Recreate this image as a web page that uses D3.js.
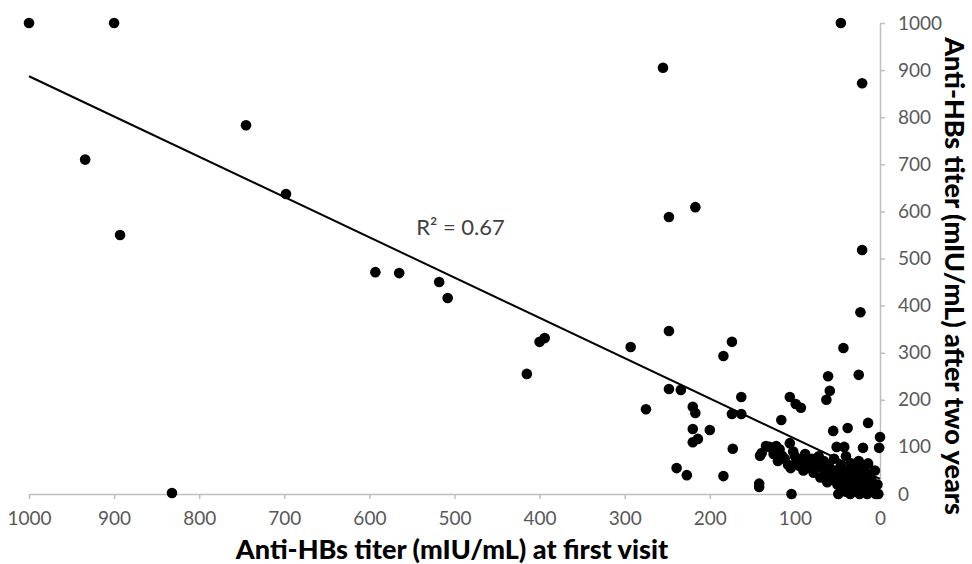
<!DOCTYPE html>
<html>
<head>
<meta charset="utf-8">
<script src="https://cdn.jsdelivr.net/npm/d3@7"></script>
<style>
  body { margin: 0; background: #fff; }
  text { font-family: Lato, 'Open Sans', sans-serif; }
</style>
</head>
<body>
<div id="chart"></div>
<script>
// titers (mIU/mL)
const firstVisit = [1000, 900, 934, 893, 832, 745, 698, 593, 565, 518, 508, 415, 400, 394, 293, 275,
  255, 248, 217, 248, 248, 234, 220, 217, 220, 220, 214, 239, 227, 200, 184, 174, 184, 173, 163,
  174, 163, 141, 134, 122, 106, 116, 115, 108, 106, 99, 93, 61, 63, 59, 55, 38, 51, 42, 23, 25,
  43, 14, 0, 1, 20, 46, 21, 21, 104, 142, 142,
  139, 130, 125, 120, 118, 112, 105, 102, 100, 98, 95, 92, 90, 88, 85, 82, 80, 78, 75, 72, 70,
  68, 66, 64, 62, 60, 58, 56, 54, 52, 50, 49, 48, 46, 45, 44, 42, 40, 40, 38, 36, 35, 34, 32,
  30, 30, 28, 27, 26, 25, 24, 22, 21, 20, 19, 18, 16, 15, 14, 12, 10, 8, 6, 5, 3, 2];
const afterTwoYears = [1000, 1000, 710, 550, 2, 783, 637, 471, 469, 450, 416, 255, 323, 331, 312, 180,
  905, 588, 609, 346, 223, 221, 185, 172, 138, 110, 117, 55, 40, 136, 293, 323, 38, 96, 206,
  170, 170, 81, 102, 102, 108, 157, 81, 62, 206, 191, 183, 250, 200, 219, 134, 140, 100, 100, 386, 253,
  310, 151, 121, 98, 98, 1000, 872, 518, 0, 22, 15,
  87, 100, 85, 70, 95, 75, 55, 90, 80, 70, 60, 75, 50, 85, 65, 55, 75, 45, 60, 80, 35,
  55, 70, 40, 25, 60, 45, 30, 75, 50, 20, 0, 40, 60, 10, 30, 50, 80, 5, 25, 45, 0, 65, 15,
  35, 55, 5, 25, 45, 70, 0, 15, 35, 55, 5, 25, 45, 0, 65, 15, 30, 5, 50, 0, 20, 0];
const xTicks = [0, 100, 200, 300, 400, 500, 600, 700, 800, 900, 1000];
const yTicks = [0, 100, 200, 300, 400, 500, 600, 700, 800, 900, 1000];
// linear trendline
const trendIntercept = 32, trendSlope = 0.855, rSquared = "0.67";

const w = 972, h = 564,
  m = {top: 23, right: 92, bottom: 70, left: 29};

const svg = d3.select("#chart")
  .append("svg")
  .attr("width", w)
  .attr("height", h)
  .attr("viewBox", [0, 0, w, h]);

const data = firstVisit.map((d, i) => ({x: d, y: afterTwoYears[i]}));

// x axis is reversed: 1000 on the left
const x = d3.scaleLinear([0, 1000], [w - m.right, m.left]);
const y = d3.scaleLinear([0, 1000], [h - m.bottom, m.top]);

const xAxis = svg.append("g")
  .attr("transform", `translate(0,${h - m.bottom})`)
  .call(d3.axisBottom(x).tickValues(xTicks).tickFormat(d3.format("d"))
    .tickSize(5).tickPadding(13).tickSizeOuter(0));

const yAxis = svg.append("g")
  .attr("transform", `translate(${w - m.right},0)`)
  .call(d3.axisRight(y).tickValues(yTicks).tickFormat(d3.format("d"))
    .tickSize(5).tickPadding(13).tickSizeOuter(0));

for (let g of [xAxis, yAxis]) {
  g.select(".domain").attr("stroke", "#bfbfbf").attr("stroke-width", 1.5);
  g.selectAll(".tick line").attr("stroke", "#bfbfbf").attr("stroke-width", 1.5);
  g.selectAll(".tick text")
    .attr("fill", "#595959")
    .style("font-size", "19px")
    .style("font-family", "Lato, 'Open Sans', sans-serif");
}

// points
svg.append("g")
  .selectAll("circle")
  .data(data)
  .join("circle")
  .attr("cx", d => x(d.x))
  .attr("cy", d => y(d.y))
  .attr("r", 5.3)
  .attr("fill", "#000");

// trendline
svg.append("line")
  .attr("x1", x(1000))
  .attr("y1", y(trendIntercept + trendSlope * 1000))
  .attr("x2", x(0))
  .attr("y2", y(trendIntercept))
  .attr("stroke", "#000")
  .attr("stroke-width", 2);

svg.append("text")
  .attr("x", x(545))
  .attr("y", y(550))
  .attr("fill", "#404040")
  .style("font-size", "22px")
  .text("R² = " + rSquared);

// axis titles
svg.append("text")
  .attr("x", 452)
  .attr("y", 559)
  .attr("text-anchor", "middle")
  .style("font-size", "27px")
  .style("font-weight", "900")
  .text("Anti-HBs titer (mIU/mL) at first visit");

svg.append("text")
  .attr("transform", `translate(945,276) rotate(90)`)
  .attr("text-anchor", "middle")
  .style("font-size", "27px")
  .style("font-weight", "900")
  .text("Anti-HBs titer (mIU/mL) after two years");
</script>
</body>
</html>
